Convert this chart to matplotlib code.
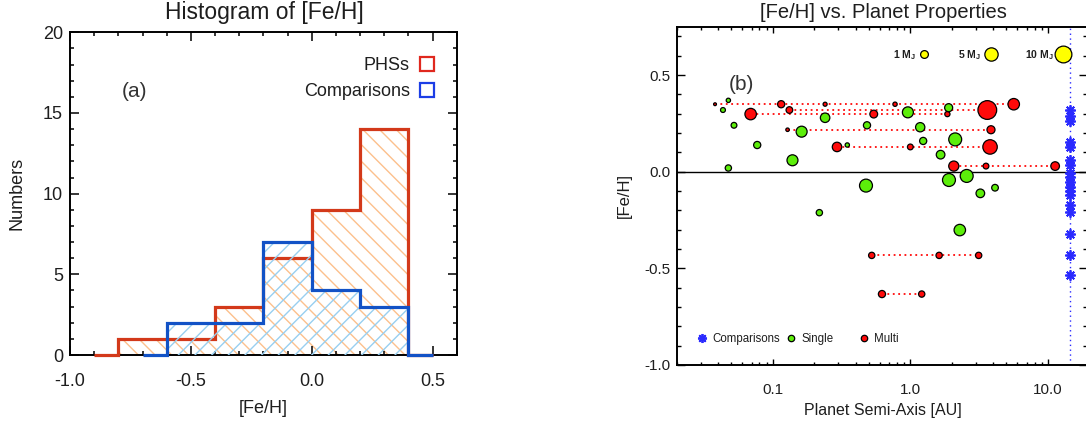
import numpy as np
import matplotlib
matplotlib.use("Agg")
import matplotlib.pyplot as plt
from matplotlib.ticker import (MultipleLocator, FixedLocator, FixedFormatter,
                               LogLocator, NullFormatter, FormatStrFormatter)

plt.rcParams['font.family'] = ['Liberation Sans', 'DejaVu Sans']
plt.rcParams['mathtext.fontset'] = 'custom'
plt.rcParams['mathtext.rm'] = 'Liberation Sans'
plt.rcParams['mathtext.bf'] = 'Liberation Sans:bold'
plt.rcParams['axes.unicode_minus'] = False
plt.rcParams['hatch.linewidth'] = 1.0

# ---------------- panel (a): [Fe/H] histograms (0.2 dex bins, empty end bins)
phs_edges = [-0.9, -0.8, -0.6, -0.4, -0.2, 0.0, 0.2, 0.4, 0.5]
phs_counts = [0, 1, 1, 3, 6, 9, 14, 0]
comp_edges = [-0.7, -0.6, -0.4, -0.2, 0.0, 0.2, 0.4, 0.5]
comp_counts = [0, 2, 2, 7, 4, 3, 0]

# ---------------- panel (b): planets around single-planet hosts
single_a = [0.0475, 0.0434, 0.0522, 0.077, 0.0475, 0.162, 0.139, 0.24, 0.348,
            0.484, 0.476, 0.96, 1.90, 1.18, 1.24, 2.12, 1.66, 1.91, 2.57,
            3.23, 4.13, 2.29, 0.218]
single_feh = [0.369, 0.319, 0.240, 0.138, 0.019, 0.207, 0.059, 0.279, 0.138,
              0.240, -0.072, 0.307, 0.331, 0.230, 0.159, 0.167, 0.088, -0.043,
              -0.022, -0.112, -0.083, -0.302, -0.212]
single_mass = [0.17, 0.25, 0.41, 0.78, 0.53, 2.8, 2.8, 1.8, 0.17,
               0.78, 4.6, 2.8, 1.1, 1.7, 0.78, 4.6, 1.37, 4.6,
               4.6, 1.37, 0.63, 3.2, 0.53]

# planets in multi-planet systems (system id groups the members)
multi_sys = [0, 0, 0, 0, 0, 1, 1, 2, 2, 2, 3, 3, 4, 4, 4, 5, 5, 5, 6, 6, 6, 7, 7]
multi_a = [0.038, 0.115, 0.24, 0.774, 5.65,
           0.132, 3.63,
           0.069, 0.542, 1.86,
           0.128, 3.86,
           0.293, 1.0, 3.8,
           2.07, 3.55, 11.3,
           0.524, 1.62, 3.14,
           0.622, 1.21]
multi_feh = [0.349, 0.349, 0.349, 0.349, 0.349,
             0.319, 0.319,
             0.298, 0.298, 0.298,
             0.217, 0.217,
             0.128, 0.128, 0.128,
             0.029, 0.029, 0.029,
             -0.433, -0.433, -0.433,
             -0.633, -0.633]
multi_mass = [0.05, 0.78, 0.14, 0.17, 3.2,
              0.63, 14.0,
              3.2, 1.0, 0.30,
              0.09, 1.1,
              1.8, 0.41, 6.4,
              2.2, 0.41, 1.37,
              0.53, 0.53, 0.53,
              0.78, 0.53]

# comparison stars, shown as a column at the right edge
comp_feh = [0.32, 0.29, 0.26, 0.155, 0.13, 0.06, 0.035, -0.005, -0.03, -0.055,
            -0.08, -0.10, -0.12, -0.17, -0.21, -0.32, -0.43, -0.535]
comp_column_a = 14.6

legend_masses = [1, 5, 10]
legend_labels = ['1 M$_\\mathbf{J}$', '5 M$_\\mathbf{J}$', '10 M$_\\mathbf{J}$']

# ---------------- styling
RED_LINE = '#d3391a'
BLUE_LINE = '#1252c6'
ORANGE_HATCH = '#fcc08c'
BLUE_HATCH = '#98cff0'
GREEN = '#5cee0a'
RED = '#ff0a0a'
STAR_BLUE = '#2a2aff'
TXT = '#1e1e1e'


def mass_to_s(m):
    """Marker area (pt^2) with diameter growing as the cube root of the mass."""
    return (5.6 * np.cbrt(np.asarray(m, dtype=float))) ** 2


W, H = 1086, 426
fig = plt.figure(figsize=(W / 100, H / 100), dpi=100)


def px_rect(left, top, right, bottom):
    return [left / W, 1 - bottom / H, (right - left) / W, (bottom - top) / H]


# ======================= panel (a) =======================
ax1 = fig.add_axes(px_rect(70, 32.3, 456.7, 355))
ax1.stairs(phs_counts, phs_edges, fill=True, facecolor='none',
           edgecolor=ORANGE_HATCH, hatch='\\\\', linewidth=0, zorder=1)
ax1.stairs(phs_counts, phs_edges, color=RED_LINE, linewidth=2.3, zorder=7,
           clip_on=False)
ax1.stairs(comp_counts, comp_edges, fill=True, facecolor='none',
           edgecolor=BLUE_HATCH, hatch='//', linewidth=0, zorder=7.5)
ax1.stairs(comp_counts, comp_edges, color=BLUE_LINE, linewidth=2.3, zorder=8,
           clip_on=False)

ax1.set_xlim(-1.0, 0.6)
ax1.set_ylim(0, 20)
ax1.xaxis.set_major_locator(FixedLocator([-1.0, -0.5, 0.0, 0.5]))
ax1.xaxis.set_major_formatter(FixedFormatter(['-1.0', '-0.5', '0.0', '0.5']))
ax1.xaxis.set_minor_locator(MultipleLocator(0.1))
ax1.yaxis.set_major_locator(MultipleLocator(5))
ax1.yaxis.set_minor_locator(MultipleLocator(1))
ax1.tick_params(which='both', direction='in', top=True, right=True,
                width=1.1, color='black', labelcolor=TXT, labelsize=13)
ax1.tick_params(which='major', length=6.5)
ax1.tick_params(which='minor', length=3.2)
ax1.tick_params(axis='x', which='major', pad=13)
ax1.tick_params(axis='y', which='major', pad=5)
for sp in ax1.spines.values():
    sp.set_linewidth(1.4)
    sp.set_zorder(6)

ax1.text(-0.735, 16.36, '(a)', fontsize=15, color='#333333',
         ha='center', va='center')
ax1.text(0.4067, 17.65, 'PHSs', fontsize=13, color=TXT, ha='right', va='baseline')
ax1.text(0.4067, 16.06, 'Comparisons', fontsize=13, color=TXT, ha='right',
         va='baseline')
ax1.plot([0.4758], [18.02], marker='s', ms=9.5, mfc='none', mec='#e0281e',
         mew=1.6, ls='none')
ax1.plot([0.4758], [16.45], marker='s', ms=9.5, mfc='none', mec='#1c3ee6',
         mew=1.6, ls='none')

fig.text(264 / W, 1 - 19.5 / H, 'Histogram of [Fe/H]', fontsize=16.5,
         color=TXT, ha='center', va='baseline')
fig.text(263.5 / W, 1 - 413 / H, '[Fe/H]', fontsize=13, color=TXT,
         ha='center', va='baseline')
fig.text(17 / W, 1 - 193.5 / H, 'Numbers', fontsize=13, color=TXT,
         ha='center', va='center', rotation=90)

# ======================= panel (b) =======================
ax2 = fig.add_axes(px_rect(676.7, 26.7, 1087.1, 365))
ax2.set_xscale('log')
ax2.set_xlim(0.02, 19.3)
ax2.set_ylim(-1.0, 0.75)

ax2.axhline(0.0, color='black', lw=1.0, zorder=1)
ax2.axvline(comp_column_a, color=STAR_BLUE, lw=1.0, ls=(0, (1, 2.5)), zorder=1)

multi_sys_arr = np.asarray(multi_sys)
multi_a_arr = np.asarray(multi_a)
multi_feh_arr = np.asarray(multi_feh)
for sid in np.unique(multi_sys_arr):
    sel = multi_sys_arr == sid
    xs = multi_a_arr[sel]
    ax2.plot([xs.min(), xs.max()], [multi_feh_arr[sel][0]] * 2, color=RED,
             lw=1.3, ls=(0, (1, 2)), zorder=2)

ax2.scatter(multi_a, multi_feh, s=mass_to_s(multi_mass), c=RED,
            edgecolors='black', linewidths=0.9, zorder=3)
ax2.scatter(single_a, single_feh, s=mass_to_s(single_mass), c=GREEN,
            edgecolors='black', linewidths=0.9, zorder=4)
ax2.plot([comp_column_a] * len(comp_feh), comp_feh, ls='none',
         marker=(8, 2, 0), ms=7.5, mew=1.3, color=STAR_BLUE, zorder=5)

# mass scale
mass_leg_a = [1.26, 3.86, 12.83]
mass_lab_a = [1.10, 3.27, 11.02]
for m, xa, xl, lab in zip(legend_masses, mass_leg_a, mass_lab_a, legend_labels):
    ax2.scatter([xa], [0.607], s=mass_to_s(m), c='#ffff00', edgecolors='black',
                linewidths=0.9, zorder=5, clip_on=False)
    ax2.text(xl, 0.587, lab, fontsize=7.5, fontweight='bold', color=TXT,
             ha='right', va='baseline')

# symbol key
ax2.plot([0.0306], [-0.859], ls='none', marker=(8, 2, 0), ms=6.5, mew=1.3,
         color=STAR_BLUE)
ax2.scatter([0.135], [-0.859], s=4.6 ** 2, c=GREEN, edgecolors='black',
            linewidths=0.9, zorder=4)
ax2.scatter([0.463], [-0.859], s=4.6 ** 2, c=RED, edgecolors='black',
            linewidths=0.9, zorder=4)
ax2.text(0.0366, -0.880, 'Comparisons', fontsize=8.3, color=TXT, va='baseline')
ax2.text(0.162, -0.880, 'Single', fontsize=8.3, color=TXT, va='baseline')
ax2.text(0.547, -0.880, 'Multi', fontsize=8.3, color=TXT, va='baseline')

ax2.text(0.0594, 0.449, '(b)', fontsize=15, color='#333333',
         ha='center', va='center')

ax2.xaxis.set_major_locator(FixedLocator([0.1, 1.0, 10.0]))
ax2.xaxis.set_major_formatter(FixedFormatter(['0.1', '1.0', '10.0']))
ax2.xaxis.set_minor_locator(LogLocator(base=10, subs=np.arange(2, 10)))
ax2.xaxis.set_minor_formatter(NullFormatter())
ax2.yaxis.set_major_locator(MultipleLocator(0.5))
ax2.yaxis.set_major_formatter(FormatStrFormatter('%.1f'))
ax2.yaxis.set_minor_locator(MultipleLocator(0.1))
ax2.tick_params(which='both', direction='in', top=True, right=True,
                width=1.0, color='black', labelcolor=TXT, labelsize=11)
ax2.tick_params(axis='y', which='major', length=5.5, pad=4.3)
ax2.tick_params(axis='y', which='minor', length=3.2)
ax2.tick_params(axis='x', which='major', length=4.0, pad=13)
ax2.tick_params(axis='x', which='minor', length=2.5)
for sp in ax2.spines.values():
    sp.set_linewidth(1.4)
    sp.set_zorder(6)

fig.text(883 / W, 1 - 18 / H, '[Fe/H] vs. Planet Properties', fontsize=14.5,
         color=TXT, ha='center', va='baseline')
fig.text(883 / W, 1 - 415.5 / H, 'Planet Semi-Axis [AU]', fontsize=11.5,
         color=TXT, ha='center', va='baseline')
fig.text(624 / W, 1 - 196 / H, '[Fe/H]', fontsize=12, color=TXT,
         ha='center', va='center', rotation=90)

fig.savefig('out.png', dpi=100)
